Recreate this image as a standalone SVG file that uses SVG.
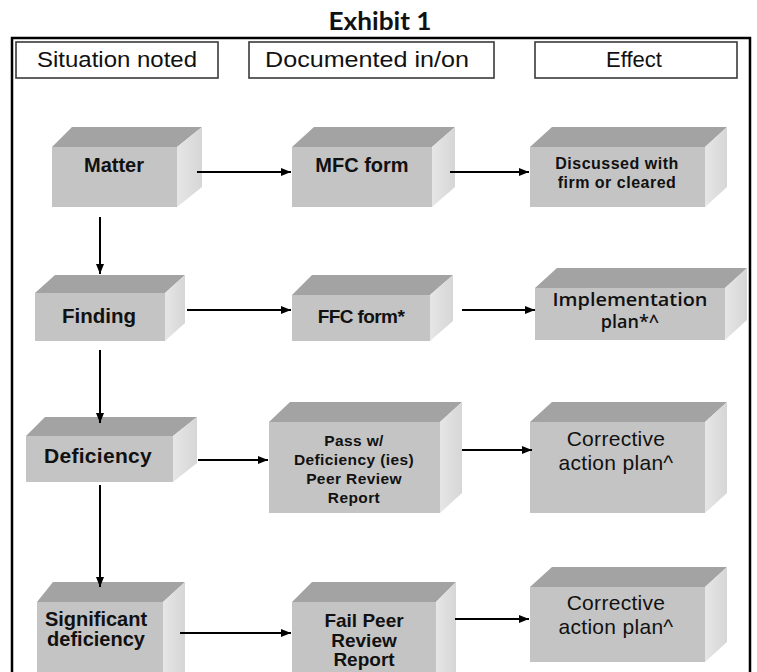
<svg xmlns="http://www.w3.org/2000/svg" width="757" height="672" viewBox="0 0 757 672">
<defs>
<marker id="ah" markerWidth="10" markerHeight="8" refX="10" refY="4" orient="auto" markerUnits="userSpaceOnUse">
<path d="M0,0 L10,4 L0,8 Z" fill="#000"/>
</marker>
<linearGradient id="sideg" x1="0" y1="0" x2="1" y2="0">
<stop offset="0" stop-color="#e6e6e6"/>
<stop offset="1" stop-color="#d6d6d6"/>
</linearGradient>
</defs>
<style>
.front{fill:#c4c4c4}
.top{fill:#a3a3a3}
.side{fill:url(#sideg)}
.hdr{fill:#fff;stroke:#3a3a3a;stroke-width:1.6}
.ht{font-family:"Liberation Sans",Arial,sans-serif;font-size:22px;fill:#111;text-anchor:middle}
.b{font-family:"Liberation Sans",Arial,sans-serif;font-weight:bold;fill:#111;text-anchor:middle}
.r{font-family:"Liberation Sans",Arial,sans-serif;fill:#111;text-anchor:middle}
.g{font-family:"Open Sans","Liberation Sans",sans-serif;font-weight:600;fill:#111;text-anchor:middle}
.frame{stroke:#000;stroke-width:2.5;fill:none}
.conn line{stroke:#000;stroke-width:2;marker-end:url(#ah)}
</style>
<rect width="757" height="672" fill="#fff"/>
<text x="380" y="30" font-family="Lato,'Open Sans',sans-serif" font-weight="bold" font-size="25" text-anchor="middle" fill="#111" textLength="103" lengthAdjust="spacingAndGlyphs">Exhibit 1</text>
<path class="frame" d="M12,672 V38 H750 V672"/>

<g id="hdr-situation"><rect class="hdr" x="16" y="42" width="202" height="36"/><text class="ht" x="117" y="67" textLength="160" lengthAdjust="spacingAndGlyphs">Situation noted</text></g>
<g id="hdr-documented"><rect class="hdr" x="249" y="42" width="245" height="36"/><text class="ht" x="367" y="67" textLength="204" lengthAdjust="spacingAndGlyphs">Documented  in/on</text></g>
<g id="hdr-effect"><rect class="hdr" x="535" y="42" width="202" height="36"/><text class="ht" x="634" y="67">Effect</text></g>

<g id="matter">
<polygon class="top" points="52,147 72,127 202,127 177,147"/>
<polygon class="side" points="177,147 202,127 202,187 177,207"/>
<rect class="front" x="52" y="147" width="125" height="60"/>
<text class="b" x="114" y="172" font-size="20">Matter</text>
</g>
<g id="mfc">
<polygon class="top" points="292,147 314,127 455,127 432,147"/>
<polygon class="side" points="432,147 455,127 455,187 432,207"/>
<rect class="front" x="292" y="147" width="140" height="60"/>
<text class="b" x="362" y="172" font-size="20">MFC form</text>
</g>
<g id="discussed">
<polygon class="top" points="530,147 552,127 727,127 705,147"/>
<polygon class="side" points="705,147 727,127 727,187 705,207"/>
<rect class="front" x="530" y="147" width="175" height="60"/>
<text class="b" x="617" y="169" font-size="16" letter-spacing="0.5">Discussed with</text>
<text class="b" x="617" y="188" font-size="16" letter-spacing="0.5">firm or cleared</text>
</g>

<g id="finding">
<polygon class="top" points="35,293 55,275 185,275 165,293"/>
<polygon class="side" points="165,293 185,275 185,323 165,341"/>
<rect class="front" x="35" y="293" width="130" height="48"/>
<text class="b" x="99" y="323" font-size="20.5">Finding</text>
</g>
<g id="ffc">
<polygon class="top" points="292,295 312,275 453,275 430,295"/>
<polygon class="side" points="430,295 453,275 453,321 430,341"/>
<rect class="front" x="292" y="295" width="138" height="46"/>
<text class="b" x="361" y="323" font-size="19" letter-spacing="-0.6">FFC form*</text>
</g>
<g id="implementation">
<polygon class="top" points="535,288 557,268 747,268 725,288"/>
<polygon class="side" points="725,288 747,268 747,320 725,340"/>
<rect class="front" x="535" y="288" width="190" height="52"/>
<text class="g" x="630" y="306" font-size="18" textLength="155" lengthAdjust="spacingAndGlyphs">Implementation</text>
<text class="g" x="630" y="328" font-size="18">plan*^</text>
</g>

<g id="deficiency">
<polygon class="top" points="26,436 45,417 197,417 173,436"/>
<polygon class="side" points="173,436 197,417 197,463 173,482"/>
<rect class="front" x="26" y="436" width="147" height="46"/>
<text class="b" x="98" y="463" font-size="21" letter-spacing="0.3">Deficiency</text>
</g>
<g id="pass">
<polygon class="top" points="269,422 290,402 462,402 440,422"/>
<polygon class="side" points="440,422 462,402 462,493 440,513"/>
<rect class="front" x="269" y="422" width="171" height="91"/>
<text class="b" x="354" y="446" font-size="15.5" letter-spacing="0.4">Pass w/</text>
<text class="b" x="354" y="465" font-size="15.5" letter-spacing="0.4">Deficiency (ies)</text>
<text class="b" x="354" y="484" font-size="15.5" letter-spacing="0.4">Peer Review</text>
<text class="b" x="354" y="503" font-size="15.5" letter-spacing="0.4">Report</text>
</g>
<g id="corrective1">
<polygon class="top" points="530,422 552,402 727,402 705,422"/>
<polygon class="side" points="705,422 727,402 727,493 705,513"/>
<rect class="front" x="530" y="422" width="175" height="91"/>
<text class="r" x="616" y="446" font-size="21" letter-spacing="0.3">Corrective</text>
<text class="r" x="616" y="470" font-size="21" letter-spacing="0.3">action plan^</text>
</g>

<g id="significant">
<polygon class="top" points="37,602 53,582 185,582 163,602"/>
<polygon class="side" points="163,602 185,582 185,672 163,672"/>
<rect class="front" x="37" y="602" width="126" height="70"/>
<text class="b" x="96" y="626" font-size="20">Significant</text>
<text class="b" x="96" y="646" font-size="20">deficiency</text>
</g>
<g id="fail">
<polygon class="top" points="292,602 312,582 456,582 436,602"/>
<polygon class="side" points="436,602 456,582 456,672 436,672"/>
<rect class="front" x="292" y="602" width="144" height="70"/>
<text class="b" x="364" y="627" font-size="19">Fail Peer</text>
<text class="b" x="364" y="647" font-size="19">Review</text>
<text class="b" x="364" y="666" font-size="19">Report</text>
</g>
<g id="corrective2">
<polygon class="top" points="530,587 552,567 727,567 705,587"/>
<polygon class="side" points="705,587 727,567 727,642 705,662"/>
<rect class="front" x="530" y="587" width="175" height="75"/>
<text class="r" x="616" y="610" font-size="21" letter-spacing="0.3">Corrective</text>
<text class="r" x="616" y="634" font-size="21" letter-spacing="0.3">action plan^</text>
</g>

<g id="connectors" class="conn">
<line x1="197" y1="172" x2="291" y2="172"/>
<line x1="450" y1="172" x2="529" y2="172"/>
<line x1="100" y1="217" x2="100" y2="274"/>
<line x1="187" y1="310" x2="291" y2="310"/>
<line x1="462" y1="310" x2="535" y2="310"/>
<line x1="100" y1="350" x2="100" y2="423"/>
<line x1="198" y1="460" x2="268" y2="460"/>
<line x1="462" y1="450" x2="532" y2="450"/>
<line x1="100" y1="485" x2="100" y2="587"/>
<line x1="180" y1="633" x2="291" y2="633"/>
<line x1="455" y1="619" x2="529" y2="619"/>
</g>
</svg>
